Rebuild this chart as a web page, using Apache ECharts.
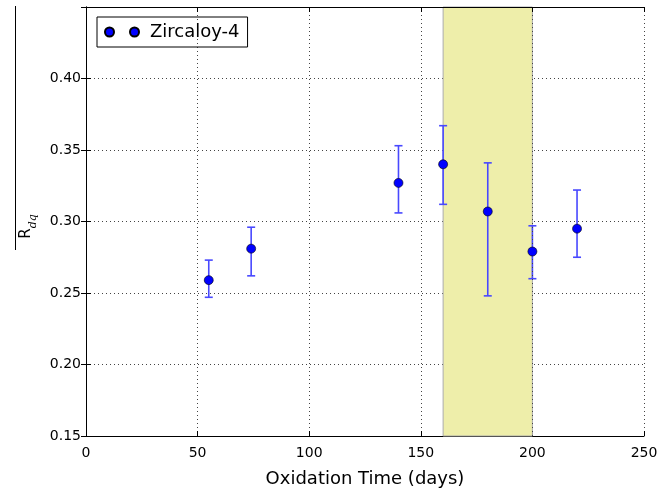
<!DOCTYPE html>
<html>
<head>
<meta charset="utf-8">
<script src="https://cdn.jsdelivr.net/npm/echarts@6/dist/echarts.min.js"></script>
<style>html,body{margin:0;padding:0;background:#fff}#c{width:668px;height:490px}</style>
</head>
<body>
<div id="c"></div>
<script>
const times = [55, 74, 140, 160, 180, 200, 220];
const rdq = [0.259, 0.281, 0.327, 0.340, 0.307, 0.279, 0.295];
const errLow = [0.247, 0.262, 0.306, 0.312, 0.248, 0.260, 0.275];
const errHigh = [0.273, 0.296, 0.353, 0.367, 0.341, 0.297, 0.322];
const shadeRange = [160, 200];
const seriesName = 'Zircaloy-4';

const font = 'DejaVu Sans';
const chart = echarts.init(document.getElementById('c'), null, {renderer: 'canvas'});

const axisCommon = {
  axisLine: {show: true, lineStyle: {color: '#000', width: 1}},
  axisTick: {show: true, inside: true, length: 5, lineStyle: {color: '#000'}},
  splitLine: {show: false}
};

chart.setOption({
  animation: false,
  textStyle: {fontFamily: font},
  grid: {left: 86, right: 24, top: 7, bottom: 54, containLabel: false, outerBoundsMode: 'none'},
  legend: {
    left: 97, top: 17,
    padding: [6, 8, 6, 7],
    borderColor: '#000', borderWidth: 1,
    itemWidth: 34, itemHeight: 9, itemGap: 10,
    icon: 'path://M0,4.5a4.5,4.5 0 1,0 9,0a4.5,4.5 0 1,0 -9,0M25,4.5a4.5,4.5 0 1,0 9,0a4.5,4.5 0 1,0 -9,0',
    textStyle: {fontFamily: font, fontSize: 18, color: '#000', padding: [0, 0, 0, 6]},
    data: [seriesName]
  },
  xAxis: [{
    type: 'value', min: 0, max: 250, interval: 50,
    ...axisCommon,
    axisLabel: {color: '#000', fontSize: 14, fontFamily: font, margin: 10},
    splitLine: {show: true, lineStyle: {color: '#444', type: [1, 3], width: 1}},
    name: 'Oxidation Time (days)', nameLocation: 'middle', nameGap: 34,
    nameTextStyle: {fontSize: 18, color: '#000', fontFamily: font}
  }, {
    type: 'value', min: 0, max: 250, interval: 50, position: 'top', z: 10,
    ...axisCommon, axisLabel: {show: false}
  }],
  yAxis: [{
    type: 'value', min: 0.15, max: 0.45, interval: 0.05,
    ...axisCommon,
    axisLabel: {color: '#000', fontSize: 14, fontFamily: font, margin: 5,
      showMaxLabel: false,
      formatter: v => v.toFixed(2)},
    splitLine: {show: true, lineStyle: {color: '#444', type: [1, 3], width: 1}},
    name: '{r|R}{s|dq}', nameLocation: 'middle', nameGap: 50, nameRotate: 90,
    nameTextStyle: {
      rich: {
        r: {fontSize: 15, color: '#000', fontFamily: font},
        s: {fontSize: 11, color: '#000', fontFamily: 'DejaVu Serif', fontStyle: 'italic', verticalAlign: 'bottom', padding: [0, 10, -5, 0]}
      }
    }
  }, {
    type: 'value', min: 0.15, max: 0.45, interval: 0.05, position: 'right', z: 10,
    ...axisCommon, axisLabel: {show: false}
  }],
  graphic: [{
    type: 'line', shape: {x1: 15.5, y1: 6, x2: 15.5, y2: 250},
    style: {stroke: '#000', lineWidth: 1}
  }],
  series: [{
    type: 'custom',
    name: 'err',
    z: 3,
    data: times.map((t, i) => [t, errLow[i], errHigh[i]]),
    renderItem: function (params, api) {
      const lo = api.coord([api.value(0), api.value(1)]);
      const hi = api.coord([api.value(0), api.value(2)]);
      const hw = 4;
      const st = {stroke: '#4848ff', lineWidth: 1.6};
      return {
        type: 'group',
        children: [
          {type: 'line', shape: {x1: lo[0], y1: lo[1], x2: hi[0], y2: hi[1]}, style: st},
          {type: 'line', shape: {x1: lo[0] - hw, y1: lo[1], x2: lo[0] + hw, y2: lo[1]}, style: st},
          {type: 'line', shape: {x1: hi[0] - hw, y1: hi[1], x2: hi[0] + hw, y2: hi[1]}, style: st}
        ]
      };
    },
    markArea: {
      silent: true,
      itemStyle: {color: '#eeeeaa', borderColor: '#aaa', borderWidth: 1},
      data: [[{xAxis: shadeRange[0]}, {xAxis: shadeRange[1]}]]
    },
    markLine: {
      silent: true, symbol: 'none', label: {show: false},
      lineStyle: {color: '#444', type: [1, 3], width: 1},
      data: [{xAxis: shadeRange[1]}]
    }
  }, {
    type: 'scatter',
    name: seriesName,
    z: 5,
    symbol: 'circle',
    symbolSize: 9,
    itemStyle: {color: '#0000ff', borderColor: '#000', borderWidth: 0.6, opacity: 1},
    data: times.map((t, i) => [t, rdq[i]])
  }]
});
</script>
</body>
</html>
